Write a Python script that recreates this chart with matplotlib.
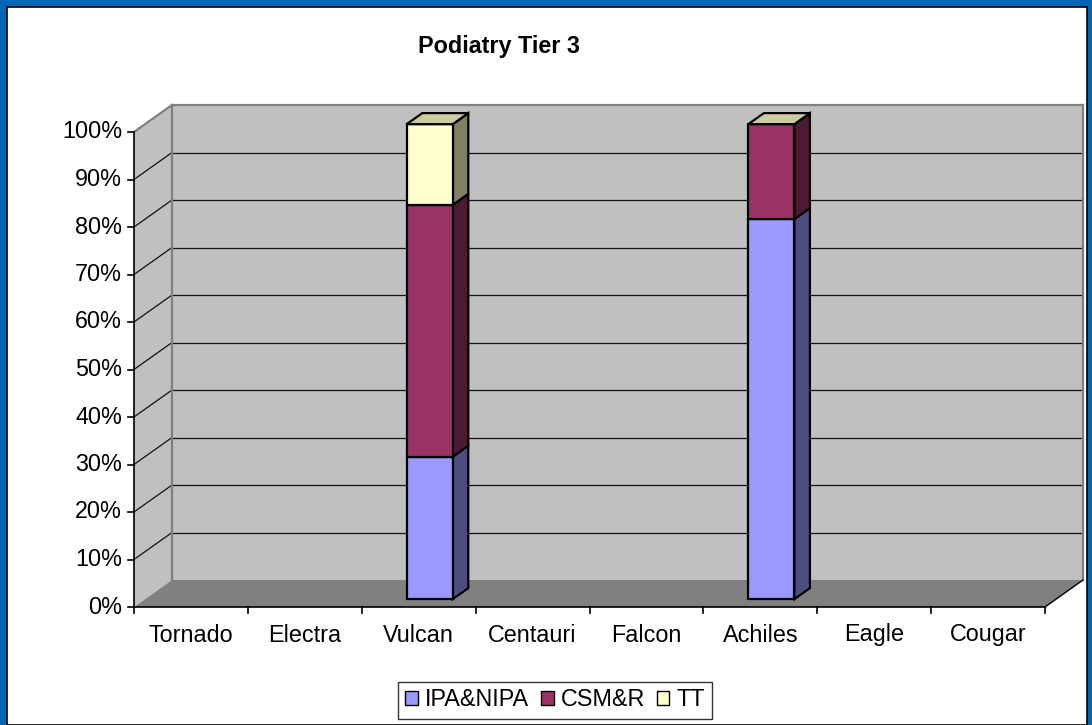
import matplotlib
matplotlib.use("Agg")
import matplotlib.pyplot as plt
from matplotlib.patches import Polygon, Rectangle
from matplotlib.transforms import IdentityTransform
import numpy as np

plt.rcParams['font.family'] = ['Liberation Sans', 'DejaVu Sans']

# ---------------- data ----------------
title = "Podiatry Tier 3"
categories = ["Tornado", "Electra", "Vulcan", "Centauri", "Falcon", "Achiles", "Eagle", "Cougar"]
series_names = ["IPA&NIPA", "CSM&R", "TT"]
ipa_nipa = [0.0, 0.0, 0.30, 0.0, 0.0, 0.80, 0.0, 0.0]
csm_r    = [0.0, 0.0, 0.53, 0.0, 0.0, 0.20, 0.0, 0.0]
tt       = [0.0, 0.0, 0.17, 0.0, 0.0, 0.00, 0.0, 0.0]
has_data = [False, False, True, False, False, True, False, False]
y_ticks = [0.0, 0.1, 0.2, 0.3, 0.4, 0.5, 0.6, 0.7, 0.8, 0.9, 1.0]
y_tick_labels = ["0%", "10%", "20%", "30%", "40%", "50%", "60%", "70%", "80%", "90%", "100%"]

front_colors = ["#9999FF", "#993366", "#FFFFCC"]
side_colors = ["#4D4D80", "#4D1A33", "#808066"]
top_colors = ["#CCCCFF", "#C06090", "#CCCCA3"]

FS = 16.8

# ---------------- figure ----------------
W, H, DPI = 1092, 725, 100
fig = plt.figure(figsize=(W / DPI, H / DPI), dpi=DPI)
fig.patch.set_facecolor("white")

# frame
fig.add_artist(Rectangle((0, 0), 1, 1, transform=fig.transFigure, facecolor="#0565B2", edgecolor="none", zorder=-10))
fig.add_artist(Rectangle((6.5 / W, 0), (W - 12) / W, (H - 6.5) / H, transform=fig.transFigure,
                         facecolor="white", edgecolor="black", linewidth=1.2, zorder=-9))

ax = fig.add_axes([134 / W, (H - 607) / H, 911 / W, 475 / H])
ax.set_xlim(0, len(categories))
ax.set_ylim(0, 1)
ax.axis("off")

DX, DY = 38.0, 27.0  # full depth in pixels
ID = IdentityTransform()


def P(x, y, d=0.0):
    px, py = ax.transData.transform((x, y))
    return (px + d * DX, py + d * DY)


def poly(pts, fc, ec="none", lw=1.0, z=1):
    fig.add_artist(Polygon(pts, closed=True, transform=ID, facecolor=fc, edgecolor=ec,
                           linewidth=lw, zorder=z, joinstyle="miter"))


def line(p1, p2, color="black", lw=1.0, z=2):
    fig.add_artist(plt.Line2D([p1[0], p2[0]], [p1[1], p2[1]], transform=ID, color=color,
                              linewidth=lw, zorder=z))


n = len(categories)
wall_gray = "#C0C0C0"
floor_gray = "#808080"
edge_gray = "#808080"

# back wall
poly([P(0, 0, 1), P(n, 0, 1), P(n, 1, 1), P(0, 1, 1)], wall_gray, z=1)
# side wall
poly([P(0, 0, 0), P(0, 0, 1), P(0, 1, 1), P(0, 1, 0)], wall_gray, z=1)
# gridlines
for t in y_ticks[1:-1]:
    line(P(0, t, 0), P(0, t, 1), "#111111", 0.9, 2)
    line(P(0, t, 1), P(n, t, 1), "#111111", 0.9, 2)
# wall edges
line(P(0, 1, 0), P(0, 1, 1), edge_gray, 1.6, 3)
line(P(0, 1, 1), P(n, 1, 1), edge_gray, 1.6, 3)
line(P(0, 0, 1), P(0, 1, 1), edge_gray, 1.6, 3)
line(P(n, 0, 1), P(n, 1, 1), edge_gray, 1.6, 3)
# floor
poly([P(0, 0, 0), P(n, 0, 0), P(n, 0, 1), P(0, 0, 1)], floor_gray, z=4)
line(P(n, 0, 0), P(n, 0, 1), "black", 1.0, 5)

# axes lines and ticks
line(P(0, 0, 0), P(0, 1, 0), "black", 1.2, 6)
line(P(0, 0, 0), P(n, 0, 0), "black", 1.2, 6)
for t, lab in zip(y_ticks, y_tick_labels):
    x0, y0 = P(0, t, 0)
    line((x0 - 6, y0), (x0, y0), "black", 1.2, 6)
    fig.text((x0 - 12) / W, y0 / H, lab, ha="right", va="center", fontsize=FS)
for i in range(n + 1):
    x0, y0 = P(i, 0, 0)
    line((x0, y0), (x0, y0 - 6), "black", 1.2, 6)
for i, c in enumerate(categories):
    x0, y0 = P(i + 0.5, 0, 0)
    fig.text(x0 / W, (y0 - 28) / H, c, ha="center", va="center", fontsize=FS)

# bars
bw = 0.404
d0, d1 = 0.29, 0.70
series = [ipa_nipa, csm_r, tt]
for i in range(n):
    if not has_data[i]:
        continue
    base = 0.0
    x_left = i + 0.5 - bw / 2
    x_right = i + 0.5 + bw / 2
    for s, vals in enumerate(series):
        v = vals[i]
        top = base + v
        z = 10 + s
        if v > 0:
            poly([P(x_right, base, d0), P(x_right, base, d1), P(x_right, top, d1), P(x_right, top, d0)],
                 side_colors[s], "black", 1.6, z)
            poly([P(x_left, base, d0), P(x_right, base, d0), P(x_right, top, d0), P(x_left, top, d0)],
                 front_colors[s], "black", 1.6, z)
        if s == len(series) - 1:
            poly([P(x_left, top, d0), P(x_right, top, d0), P(x_right, top, d1), P(x_left, top, d1)],
                 top_colors[s], "black", 1.6, z + 1)
        base = top

# title
fig.text(499 / W, 1 - 47 / H, title, ha="center", va="center", fontsize=FS, fontweight="bold")

# legend
handles = [Rectangle((0, 0), 1, 1, facecolor=front_colors[k], edgecolor="black", linewidth=1.0)
           for k in range(3)]
leg = fig.legend(handles, series_names, loc="center", bbox_to_anchor=(555 / W, 1 - 700 / H),
                 ncol=3, frameon=True, fontsize=FS, handlelength=0.55, handleheight=0.55,
                 handletextpad=0.3, columnspacing=0.5, borderpad=0.3, fancybox=False)
leg.get_frame().set_edgecolor("black")
leg.get_frame().set_linewidth(1.0)

fig.savefig("out.png", dpi=DPI)
